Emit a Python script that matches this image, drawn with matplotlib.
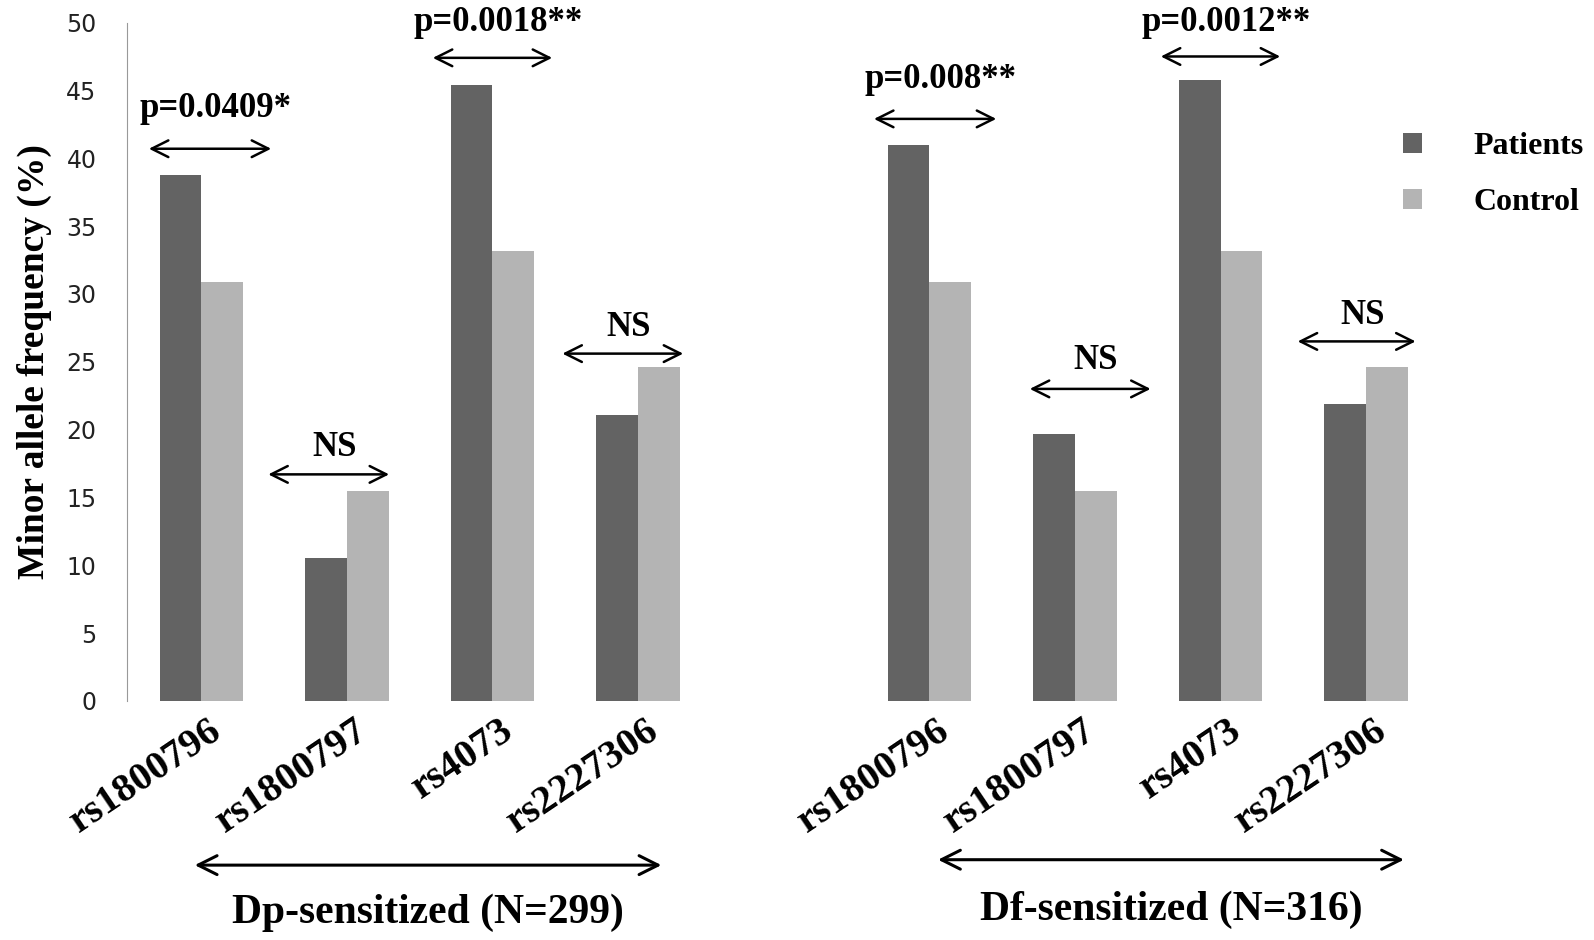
import numpy as np
import matplotlib
matplotlib.use("Agg")
import matplotlib.pyplot as plt
from matplotlib.transforms import ScaledTranslation

# data
snps = ["rs1800796", "rs1800797", "rs4073", "rs2227306"]
dp_patients = [38.8, 10.5, 45.4, 21.1]
dp_control = [30.9, 15.5, 33.2, 24.6]
df_patients = [41.0, 19.7, 45.8, 21.9]
df_control = [30.9, 15.5, 33.2, 24.6]
dp_pvals = ["p=0.0409*", "NS", "p=0.0018**", "NS"]
df_pvals = ["p=0.008**", "NS", "p=0.0012**", "NS"]
groups = ["Dp-sensitized (N=299)", "Df-sensitized (N=316)"]

c_pat = "#636363"
c_con = "#b4b4b4"
serif = "Liberation Serif"

fig = plt.figure(figsize=(15.94, 9.40), dpi=100)
ax = fig.add_axes([0.0797, 0.2543, 0.823, 0.7217])

x = np.array([0, 1, 2, 3, 5, 6, 7, 8])
pat = dp_patients + df_patients
con = dp_control + df_control
w = 0.286
ax.bar(x - w / 2, pat, w, color=c_pat, label="Patients")
ax.bar(x + w / 2, con, w, color=c_con, label="Control")

ax.set_xlim(-0.51, 8.5)
ax.set_ylim(0, 50)
ax.set_yticks(np.arange(0, 51, 5))
ax.tick_params(axis="y", length=0, labelsize=17, pad=22, labelcolor="#222222")
ax.tick_params(axis="x", length=0)
for s in ["top", "right", "bottom"]:
    ax.spines[s].set_visible(False)
ax.spines["left"].set_color("#999999")
ax.set_ylabel("Minor allele frequency (%)", fontfamily=serif, fontweight="bold",
              fontsize=27, labelpad=10)

ax.set_xticks(x)
ax.set_xticklabels(snps + snps, fontfamily=serif, fontweight="bold", fontsize=29,
                   rotation=34, ha="right", rotation_mode="anchor")
for lab in ax.get_xticklabels():
    lab.set_transform(lab.get_transform() + ScaledTranslation(0.07, -0.06, fig.dpi_scale_trans))

# significance arrows above each pair (left/right ends relative to pair centre)
ann_y = [40.7, 16.7, 47.4, 25.6, 42.9, 23.0, 47.5, 26.5]
arr_l = [-0.36, -0.54, -0.41, -0.52, -0.38, -0.31, -0.41, -0.47]
arr_r = [0.48, 0.29, 0.41, 0.31, 0.46, 0.52, 0.41, 0.34]
txt_off = [3.0, 2.0, 2.6, 1.9, 2.9, 2.1, 2.5, 1.9]
labels = dp_pvals + df_pvals
for xi, yi, l, r, off, lab in zip(x, ann_y, arr_l, arr_r, txt_off, labels):
    ax.annotate("", xy=(xi + l, yi), xytext=(xi + r, yi),
                arrowprops=dict(arrowstyle="<->", lw=1.8, color="black",
                                mutation_scale=30, shrinkA=0, shrinkB=0),
                annotation_clip=False)
    ax.text(xi + (l + r) / 2 + 0.04, yi + off, lab, ha="center", va="center",
            fontfamily=serif, fontweight="bold", fontsize=25, clip_on=False)

# group arrows under the labels
for x0, x1, yy, ty, g in [(-0.045, 3.16, -12.1, -15.6, groups[0]),
                          (5.06, 8.26, -11.7, -15.4, groups[1])]:
    ax.annotate("", xy=(x0, yy), xytext=(x1, yy),
                arrowprops=dict(arrowstyle="<->", lw=2.2, color="black",
                                mutation_scale=34, shrinkA=0, shrinkB=0),
                annotation_clip=False)
    ax.text((x0 + x1) / 2, ty, g, ha="center", va="center", fontfamily=serif,
            fontweight="bold", fontsize=30, clip_on=False)

fig.legend(loc="upper left", bbox_to_anchor=(0.862, 0.89), frameon=False,
           prop=dict(family=serif, weight="bold", size=23),
           handlelength=0.6, handleheight=0.6, labelspacing=0.85, handletextpad=1.6)

fig.savefig("out.png", dpi=100, facecolor="white")
